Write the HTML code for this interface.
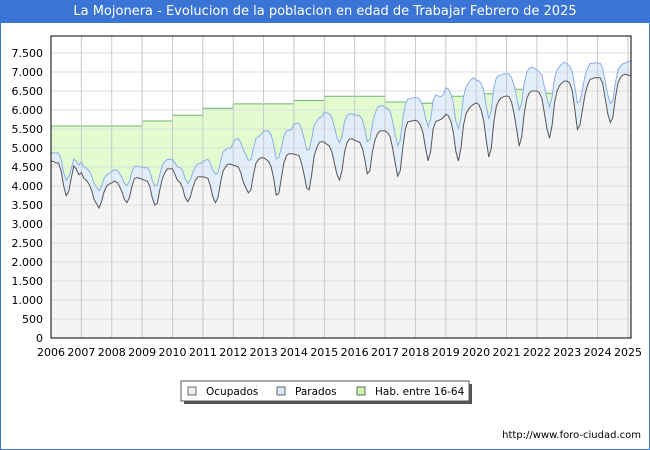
<!DOCTYPE html>
<html><head><meta charset="utf-8"><style>
body{margin:0;background:#fff;}
#wrap{position:relative;width:648px;height:448px;border:1px solid #3a74d4;overflow:hidden;font-family:"DejaVu Sans","Liberation Sans",sans-serif;}
#title{position:absolute;left:0;top:0;width:648px;height:22px;background:#3a74d4;color:#fff;font-size:13px;line-height:22px;text-align:center;}
</style></head><body>
<div id="wrap">
<div id="title">La Mojonera - Evolucion de la poblacion en edad de Trabajar Febrero de 2025</div>
<svg id="chart" width="648" height="448" style="position:absolute;left:0;top:0"></svg>
</div>
<script>
const yearLabels=["2006","2007","2008","2009","2010","2011","2012","2013","2014","2015","2016","2017","2018","2019","2020","2021","2022","2023","2024","2025"];
const yTicks=[0,500,1000,1500,2000,2500,3000,3500,4000,4500,5000,5500,6000,6500,7000,7500];
const yTickLabels=["0","500","1.000","1.500","2.000","2.500","3.000","3.500","4.000","4.500","5.000","5.500","6.000","6.500","7.000","7.500"];
const habAnnual=[5580,5580,5580,5710,5860,6045,6160,6160,6250,6360,6360,6210,6180,6360,6430,6545,6440,6175,6000,6000];
const ocupados=[
4660,4640,4610,4600,4400,4000,3750,3850,4200,4530,4450,4300,
4350,4200,4150,4050,3900,3650,3530,3420,3600,3850,4000,4050,
4080,4130,4100,4000,3850,3650,3560,3700,4000,4200,4220,4200,
4180,4150,4130,4000,3700,3500,3550,3900,4200,4350,4450,4450,
4450,4300,4150,4090,3950,3700,3590,3700,3950,4150,4240,4240,
4240,4230,4200,4000,3700,3560,3700,4100,4400,4500,4580,4570,
4550,4530,4500,4350,4100,3950,3820,3900,4300,4600,4700,4745,
4745,4700,4650,4500,4200,3760,3800,4200,4600,4800,4850,4850,
4840,4820,4800,4600,4300,3950,3900,4300,4800,5000,5150,5165,
5150,5100,5050,4900,4600,4300,4160,4400,4900,5150,5240,5240,
5200,5180,5150,5000,4700,4320,4400,4900,5200,5380,5450,5450,
5450,5400,5300,5000,4600,4260,4400,5000,5500,5690,5700,5720,
5730,5700,5600,5400,5000,4660,4900,5500,5700,5720,5750,5800,
5890,5850,5700,5400,4900,4660,5000,5600,5900,6020,6100,6150,
6190,6150,6000,5700,5200,4760,5000,5700,6100,6250,6330,6350,
6370,6350,6200,5900,5500,5050,5300,5900,6300,6450,6500,6500,
6500,6450,6300,5900,5500,5255,5600,6200,6500,6650,6720,6760,
6760,6700,6500,6000,5490,5600,6000,6400,6650,6800,6830,6850,
6850,6850,6700,6300,5900,5670,5800,6300,6700,6850,6920,6940,
6920,6900];
const parados=[
220,230,250,270,300,350,400,380,250,180,200,250,
280,300,320,350,380,420,440,450,400,350,300,280,
300,300,320,340,380,420,450,420,380,320,300,300,
320,330,350,400,450,500,480,400,350,300,250,250,
250,300,350,400,450,500,480,450,400,350,350,350,
400,450,500,600,700,750,650,550,500,450,420,420,
600,700,750,800,850,880,850,800,700,650,600,600,
700,750,800,850,880,950,950,800,700,650,620,620,
800,820,850,900,950,1000,1050,950,800,700,650,650,
800,820,850,900,950,980,980,900,800,700,660,660,
660,680,700,750,800,850,815,750,700,680,660,660,
620,640,660,700,750,800,800,750,650,600,600,600,
600,620,650,700,800,900,850,750,700,650,600,600,
700,700,720,750,800,850,800,750,700,700,700,700,
600,620,700,800,900,1000,1000,900,750,650,600,600,
580,600,650,750,850,950,900,800,700,650,620,600,
550,550,600,700,800,820,750,650,550,500,500,500,
450,450,500,600,700,620,550,500,450,420,400,400,
380,380,400,450,500,500,450,400,350,300,300,300,
350,400];
const NS="http://www.w3.org/2000/svg";
const svg=document.getElementById('chart');
const X0=50,X1=627,YB=337,YT=35,PR=630;
const nYears=yearLabels.length-1;
function xPos(t){return X0+(X1-X0)*t/nYears;}
function yPos(v){return YB-v*0.038;}
function mk(tag,attrs,parent){const e=document.createElementNS(NS,tag);for(const k in attrs)e.setAttribute(k,attrs[k]);(parent||svg).appendChild(e);return e;}
const bg=mk('rect',{x:X0,y:YT,width:PR-X0,height:YB-YT,fill:'#fff'});


const n=ocupados.length;
let habPts=[];
for(let i=0;i<n;i++){const yr=Math.floor(i/12);const v=habAnnual[yr];const x=xPos(i/12);if(i>0&&habAnnual[Math.floor((i-1)/12)]!==v){habPts.push([x,yPos(habAnnual[Math.floor((i-1)/12)])]);}habPts.push([x,yPos(v)]);}
function areaPath(pts){return 'M'+pts[0][0]+','+YB+' '+pts.map(p=>'L'+p[0].toFixed(1)+','+p[1].toFixed(1)).join(' ')+' L'+pts[pts.length-1][0]+','+YB+' Z';}
function linePath(pts){return pts.map((p,i)=>(i?'L':'M')+p[0].toFixed(1)+','+p[1].toFixed(1)).join(' ');}
const totPts=ocupados.map((v,i)=>[xPos(i/12),yPos(v+parados[i])]);
const ocPts=ocupados.map((v,i)=>[xPos(i/12),yPos(v)]);
let e;
e=mk('path',{d:areaPath(habPts),fill:'#e2fcd0'});


e=mk('path',{d:linePath(habPts),fill:'none',stroke:'#6cb86c','stroke-width':1});


e=mk('path',{d:areaPath(totPts),fill:'#e2eefc'});


e=mk('path',{d:areaPath(ocPts),fill:'#f4f4f4'});


yTicks.forEach((v,i)=>{if(v>0){const g=mk('line',{x1:X0,x2:PR,y1:yPos(v),y2:yPos(v),stroke:'#dcdcdc','stroke-width':1});}
const t=mk('text',{x:42,y:yPos(v)+4,'text-anchor':'end','font-size':'11',fill:'#000'});t.textContent=yTickLabels[i];});
yearLabels.forEach((l,i)=>{const x=xPos(i);if(i>0){const g=mk('line',{x1:x,x2:x,y1:YT,y2:YB,stroke:'#c8c8c8','stroke-width':1});}
const t=mk('text',{x:x,y:355,'text-anchor':'middle','font-size':'11',fill:'#000'});t.textContent=l;});
e=mk('path',{d:linePath(totPts),fill:'none',stroke:'#8aaee8','stroke-width':1});


e=mk('path',{d:linePath(ocPts),fill:'none',stroke:'#555','stroke-width':1});


e=mk('rect',{x:X0,y:YT,width:PR-X0,height:YB-YT,fill:'none',stroke:'#000','stroke-width':1});


const lg=mk('g',{});


mk('rect',{x:183,y:383,width:288,height:20,fill:'#555'},lg);
mk('rect',{x:180,y:380,width:288,height:20,fill:'#fff',stroke:'#555'},lg);
const items=[["Ocupados","#f0f0f0",187],["Parados","#d8e8fa",276],["Hab. entre 16-64","#ccf8a8",356]];
items.forEach(it=>{const g=mk('g',{},lg);
mk('rect',{x:it[2],y:386,width:8,height:8,fill:it[1],stroke:'#666'},g);
const t=mk('text',{x:it[2]+18,y:394,'font-size':'10.5',fill:'#000'},g);t.textContent=it[0];});
e=mk('text',{x:640,y:437,'text-anchor':'end','font-size':'10',fill:'#000'});
e.textContent='http://www.foro-ciudad.com';


</script>
</body></html>
